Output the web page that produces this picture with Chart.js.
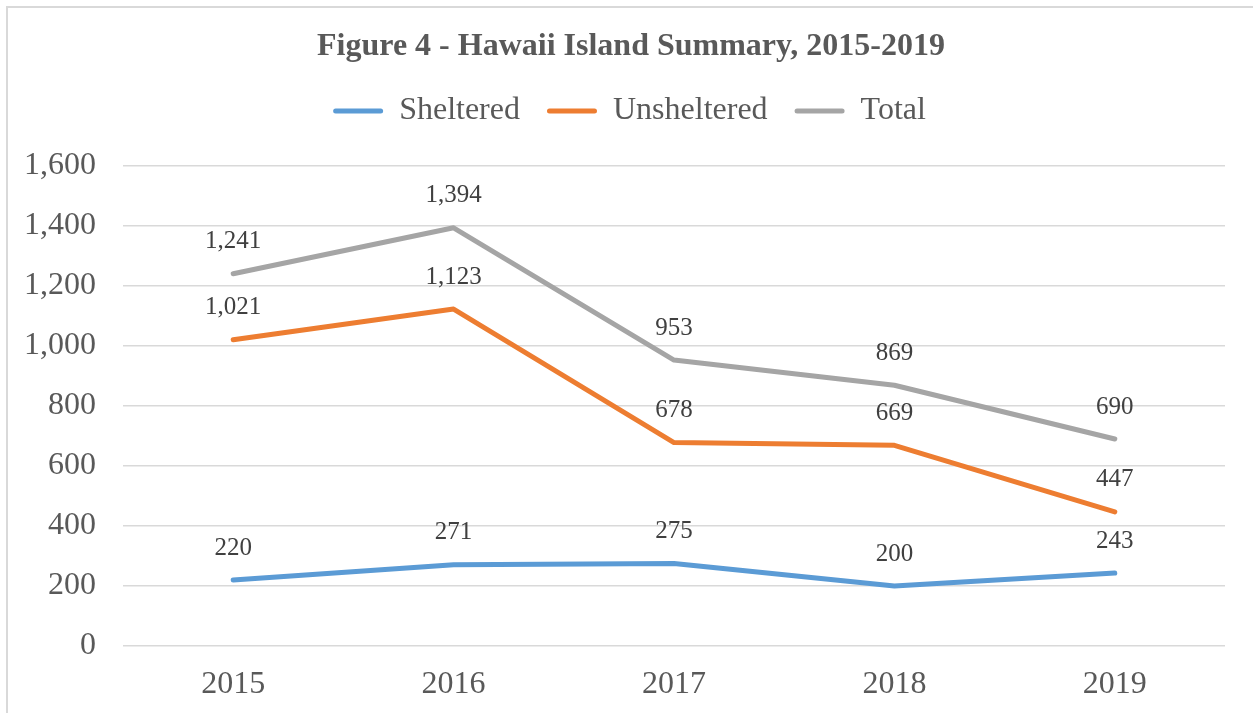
<!DOCTYPE html>
<html>
<head>
<meta charset="utf-8">
<script src="https://cdn.jsdelivr.net/npm/chart.js@4"></script>
<style>
html,body{margin:0;padding:0;background:#fff;}
canvas{display:block;}
</style>
</head>
<body>
<canvas id="c" width="1253" height="713"></canvas>
<script>
const categories = ["2015", "2016", "2017", "2018", "2019"];
const sheltered = [220, 271, 275, 200, 243];
const unsheltered = [1021, 1123, 678, 669, 447];
const total = [1241, 1394, 953, 869, 690];
const seriesNames = ["Sheltered", "Unsheltered", "Total"];
const yTicks = [0, 200, 400, 600, 800, 1000, 1200, 1400, 1600];

const FONT = '"Liberation Serif", "Times New Roman", serif';
const fmt = v => v.toLocaleString('en-US');
const LEGEND_PAD = 27;

const borderPlugin = {
  id: 'frame',
  beforeDraw(chart) {
    const ctx = chart.ctx;
    ctx.save();
    ctx.fillStyle = '#fff';
    ctx.fillRect(0, 0, chart.width, chart.height);
    ctx.strokeStyle = '#d9d9d9';
    ctx.lineWidth = 2;
    ctx.strokeRect(7, 7, chart.width + 20, chart.height + 20);
    ctx.restore();
  }
};

const labelPlugin = {
  id: 'valueLabels',
  afterDatasetsDraw(chart) {
    const ctx = chart.ctx;
    ctx.save();
    ctx.font = '25px ' + FONT;
    ctx.fillStyle = '#404040';
    ctx.textAlign = 'center';
    ctx.textBaseline = 'middle';
    chart.data.datasets.forEach((ds, i) => {
      const meta = chart.getDatasetMeta(i);
      meta.data.forEach((pt, j) => {
        ctx.fillText(fmt(ds.data[j]), pt.x, pt.y - 32);
      });
    });
    ctx.restore();
  }
};

const layoutTweakPlugin = {
  id: 'layoutTweak',
  beforeLayout(chart) {
    const lg = chart.legend;
    if (lg && !lg._gapPatched) {
      const orig = lg.fit.bind(lg);
      lg.fit = function () {
        orig();
        this.height += 29;
        if (this.lineWidths && this.lineWidths.length) {
          this.lineWidths = this.lineWidths.map(w => w - LEGEND_PAD);
        }
      };
      lg._gapPatched = true;
    }
    const tb = chart.titleBlock;
    if (tb && !tb._shiftPatched) {
      const od = tb.draw.bind(tb);
      tb.draw = function () {
        const ctx = this.ctx;
        ctx.save();
        ctx.translate(15, 0);
        od();
        ctx.restore();
      };
      tb._shiftPatched = true;
    }
  }
};

const mk = (label, data, color) => ({
  label, data,
  borderColor: color,
  backgroundColor: color,
  borderWidth: 5,
  borderCapStyle: 'round',
  borderJoinStyle: 'round',
  pointRadius: 0,
  pointHoverRadius: 0,
  tension: 0,
  fill: false
});

new Chart(document.getElementById('c'), {
  type: 'line',
  data: {
    labels: categories,
    datasets: [
      mk(seriesNames[0], sheltered, '#5B9BD5'),
      mk(seriesNames[1], unsheltered, '#ED7D31'),
      mk(seriesNames[2], total, '#A5A5A5')
    ]
  },
  options: {
    responsive: false,
    animation: false,
    events: [],
    layout: { padding: { left: 7, right: 28, top: 0, bottom: 0 } },
    plugins: {
      title: {
        display: true,
        text: 'Figure 4 - Hawaii Island Summary, 2015-2019',
        color: '#595959',
        font: { family: FONT, size: 32, weight: 'bold', lineHeight: 1 },
        padding: { top: 31, bottom: 5 }
      },
      legend: {
        display: true,
        labels: {
          color: '#595959',
          font: { family: FONT, size: 32 },
          boxWidth: 50,
          boxHeight: 5,
          padding: LEGEND_PAD,
          useBorderRadius: true,
          borderRadius: 2.5,
          generateLabels(chart) {
            return Chart.defaults.plugins.legend.labels.generateLabels(chart).map(l => {
              l.lineWidth = 0;
              l.fillStyle = l.strokeStyle;
              return l;
            });
          }
        }
      },
      tooltip: { enabled: false }
    },
    scales: {
      x: {
        offset: true,
        grid: { display: false, drawTicks: false },
        border: { display: false },
        ticks: { color: '#595959', font: { family: FONT, size: 32 }, padding: 19 },
        afterFit(s) { s.height = 67; }
      },
      y: {
        min: 0,
        max: 1600,
        afterBuildTicks(s) { s.ticks = yTicks.map(v => ({ value: v })); },
        grid: { color: '#d9d9d9', lineWidth: 1.5, drawTicks: false },
        border: { display: false },
        ticks: {
          color: '#595959',
          font: { family: FONT, size: 32 },
          padding: 27,
          callback: v => fmt(v)
        },
        afterFit(s) { s.width = 116; }
      }
    }
  },
  plugins: [borderPlugin, layoutTweakPlugin, labelPlugin]
});
</script>
</body>
</html>
